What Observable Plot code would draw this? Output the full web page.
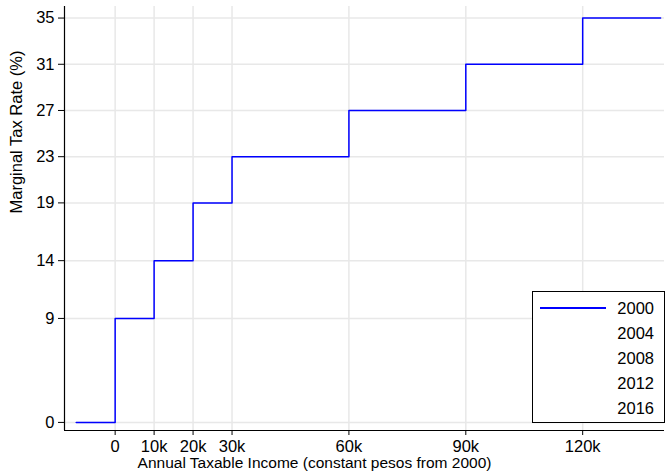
<!DOCTYPE html>
<html>
<head>
<meta charset="utf-8">
<script src="https://cdn.jsdelivr.net/npm/d3@7"></script>
<script src="https://cdn.jsdelivr.net/npm/@observablehq/plot@0.6"></script>
<style>
  body { margin: 0; background: #fff; }
  #wrap { position: relative; width: 669px; height: 475px; font-family: "Liberation Sans", Arial, sans-serif; }
  #legend { position: absolute; left: 532px; top: 291px; width: 133px; height: 132px; border: 1px solid #000; background: #fff; box-sizing: border-box; font-size: 16.5px; }
  .row { position: absolute; right: 10px; height: 24px; line-height: 24px; }
  .swatch { position: absolute; left: 7px; width: 66px; height: 1.5px; }
</style>
</head>
<body>
<div id="wrap"></div>
<script>
const breakpoints = [-10000, 0, 10000, 20000, 30000, 60000, 90000, 120000, 140000];
const rates = [0, 9, 14, 19, 23, 27, 31, 35, 35];
const yTicks = [0, 9, 14, 19, 23, 27, 31, 35];
const xTicks = [0, 10000, 20000, 30000, 60000, 90000, 120000];
const xTickLabels = ["0", "10k", "20k", "30k", "60k", "90k", "120k"];
const legendYears = ["2000", "2004", "2008", "2012", "2016"];
const legendColors = ["#0000ff", null, null, null, null];

const data = breakpoints.map((x, i) => ({x, rate: rates[i]}));
const xDomain = [-13000, 141000];
const yDomain = [-0.7, 36];

const chart = Plot.plot({
  width: 669,
  height: 475,
  marginLeft: 64,
  marginRight: 5,
  marginTop: 6,
  marginBottom: 45,
  style: {fontFamily: "Liberation Sans, Arial, sans-serif", fontSize: "16px", background: "#fff", color: "#000"},
  x: {domain: xDomain, ticks: xTicks, tickFormat: d => xTickLabels[xTicks.indexOf(d)], label: null},
  y: {domain: yDomain, ticks: yTicks, label: null},
  marks: [
    Plot.gridX(xTicks, {stroke: "#e8e8e8", strokeOpacity: 1, strokeWidth: 1.5}),
    Plot.gridY(yTicks, {stroke: "#e8e8e8", strokeOpacity: 1, strokeWidth: 1.5}),
    Plot.axisX(xTicks, {tickSize: 5, tickPadding: 5, fontSize: 16.5, tickFormat: d => xTickLabels[xTicks.indexOf(d)], label: null}),
    Plot.axisY(yTicks, {tickSize: 6, tickPadding: 4, fontSize: 16.5, label: null}),
    Plot.ruleX([xDomain[0]], {stroke: "#000", strokeWidth: 1.2}),
    Plot.ruleY([yDomain[0]], {stroke: "#000", strokeWidth: 1.2}),
    Plot.line(data, {x: "x", y: "rate", curve: "step-after", stroke: "#0000ff", strokeWidth: 1.5}),
    Plot.text(["Annual Taxable Income (constant pesos from 2000)"], {frameAnchor: "bottom", dx: -50, dy: 37, fontSize: 15.5, text: d => d}),
    Plot.text(["Marginal Tax Rate (%)"], {frameAnchor: "left", dx: -48, dy: -5, rotate: -90, fontSize: 16.5, text: d => d})
  ]
});

const wrap = document.getElementById("wrap");
wrap.appendChild(chart);
const legend = document.createElement("div");
legend.id = "legend";
legendYears.forEach((yr, i) => {
  const row = document.createElement("div");
  row.className = "row";
  row.style.top = (4 + i * 25) + "px";
  row.textContent = yr;
  legend.appendChild(row);
  if (legendColors[i]) {
    const sw = document.createElement("div");
    sw.className = "swatch";
    sw.style.top = (4 + i * 25 + 11) + "px";
    sw.style.background = legendColors[i];
    legend.appendChild(sw);
  }
});
wrap.appendChild(legend);
</script>
</body>
</html>
